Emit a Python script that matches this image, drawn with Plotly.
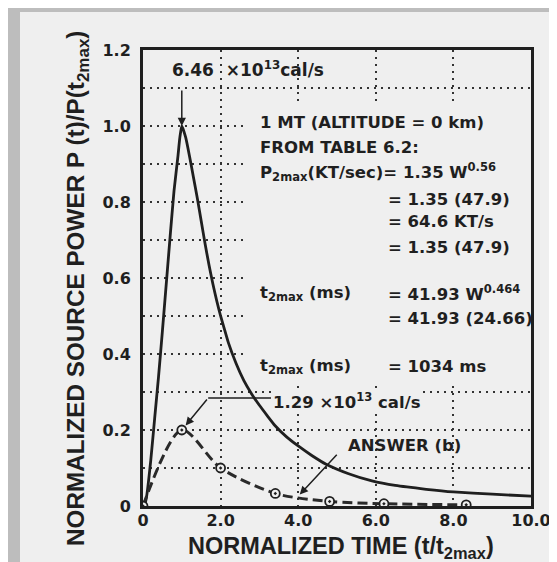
import plotly.graph_objects as go

# ---- data ----
solid_t = [0, 0.05, 0.1, 0.2, 0.3, 0.4, 0.5, 0.6, 0.7, 0.8, 0.9, 0.95, 1.0,
           1.1, 1.2, 1.3, 1.4, 1.5, 1.6, 1.7, 1.8, 1.9, 2.0, 2.1, 2.2, 2.4, 2.6,
           2.8, 3.0, 3.2, 3.4, 3.7, 4.0, 4.35, 4.72, 5.3, 5.9, 6.5, 7.3, 8.0, 9.0, 10.0]
solid_v = [0, 0.005, 0.03, 0.12, 0.23, 0.34, 0.46, 0.585, 0.71, 0.83, 0.92, 0.97, 1.0,
           0.97, 0.92, 0.865, 0.81, 0.75, 0.69, 0.635, 0.585, 0.54, 0.50, 0.465, 0.43,
           0.375, 0.33, 0.295, 0.265, 0.238, 0.212, 0.182, 0.158, 0.133, 0.11, 0.085,
           0.066, 0.054, 0.044, 0.037, 0.031, 0.026]

answer_t = [0, 1.0, 2.0, 3.41, 4.81, 6.21, 8.33]
answer_v = [0, 0.2, 0.1, 0.033, 0.012, 0.006, 0.003]

x_tickvals = [0, 2, 4, 6, 8, 10]
x_ticktext = ["0", "2.0", "4.0", "6.0", "8.0", "10.0"]
y_tickvals = [0, 0.2, 0.4, 0.6, 0.8, 1.0, 1.2]
y_ticktext = ["0", "0.2", "0.4", "0.6", "0.8", "1.0", "1.2"]

INK = "#1f1f1f"
BG = "#efefef"
FONT = "DejaVu Sans"
TFONT = "Liberation Sans, Arial, sans-serif"

# plot-area pixel frame used to place paper-referenced labels
L, R, T, B = 135, 523, 42, 498
W, H = R - L, B - T


def px(x):
    return (x - L) / W


def py(y):
    return (B - y) / H


fig = go.Figure()
fig.add_trace(go.Scatter(x=solid_t, y=solid_v, mode="lines",
                         line=dict(color=INK, width=2.8, shape="spline", smoothing=0.5),
                         hoverinfo="skip", showlegend=False))
fig.add_trace(go.Scatter(x=answer_t, y=answer_v, mode="lines+markers",
                         line=dict(color="#2a2a2a", width=3, dash="10px,5px",
                                   shape="spline", smoothing=0.8),
                         marker=dict(symbol="circle-dot", size=9, color=BG,
                                     line=dict(color=INK, width=1.8)),
                         hoverinfo="skip", showlegend=False))

grid = dict(gridcolor="#333333", gridwidth=1.6, griddash="2px,5px")

fig.update_xaxes(range=[0, 10], tickvals=x_tickvals, ticktext=x_ticktext,
                 showline=True, mirror=True, linewidth=3, linecolor=INK,
                 showgrid=True, ticks="", zeroline=False, ticklabelstandoff=-2,
                 tickfont=dict(family=FONT, size=16, color=INK, weight="bold"), **grid)
fig.update_yaxes(range=[0, 1.2], tickvals=y_tickvals, ticktext=y_ticktext,
                 showline=True, mirror=True, linewidth=3, linecolor=INK,
                 showgrid=True, ticks="", zeroline=False, ticklabelstandoff=6,
                 minor=dict(dtick=0.1, showgrid=True, ticks="", **grid),
                 tickfont=dict(family=FONT, size=16, color=INK, weight="bold"), **grid)

# mask grid behind the text block
fig.add_shape(type="rect", xref="x", yref="y", x0=2.65, x1=10, y0=0.32, y1=1.055,
              fillcolor=BG, line=dict(width=0), layer="between")

# textured border strips (left, top)
for (x0, x1, y0, y1) in [(-0.4, px(12), -0.2, 1.2), (-0.4, 1.2, py(4), 1.2)]:
    fig.add_shape(type="rect", xref="paper", yref="paper", x0=x0, x1=x1, y0=y0, y1=y1,
                  fillcolor="#bdbdbd", line=dict(width=0), layer="below")

tf = dict(family=FONT, size=16.5, color=INK, weight="bold")
ann = []

# peak arrow
pk = solid_v.index(max(solid_v))
ann.append(dict(x=solid_t[pk], y=solid_v[pk], xref="x", yref="y", ax=0, ay=-37,
                text="", showarrow=True, arrowhead=2, arrowsize=1.1, arrowwidth=1.5,
                arrowcolor=INK))
ann.append(dict(x=0.7, y=1.15, xref="x", yref="y", xanchor="left", yanchor="middle",
                text="6.46  \u00d710<sup>13</sup>cal/s", showarrow=False,
                font=dict(tf, size=17)))

# 1.29 label with leader
ann.append(dict(x=3.3, y=0.276, xref="x", yref="y", xanchor="left", yanchor="middle",
                text="1.29 \u00d710<sup>13</sup> cal/s", showarrow=False, font=tf,
                bgcolor=BG, borderpad=1))
fig.add_shape(type="line", xref="x", yref="y", x0=1.68, x1=3.3, y0=0.284, y1=0.284,
              line=dict(color=INK, width=1.5))
ann.append(dict(x=answer_t[1], y=answer_v[1], xref="x", yref="y", axref="x", ayref="y",
                ax=1.68, ay=0.284, text="", showarrow=True, arrowhead=2, arrowsize=1.1,
                arrowwidth=1.5, arrowcolor=INK, standoff=6))

# ANSWER (b)
ann.append(dict(x=6.75, y=0.158, xref="x", yref="y", xanchor="center", yanchor="middle",
                text="ANSWER (b)", showarrow=False, font=tf))
ann.append(dict(x=4.04, y=0.03, xref="x", yref="y", axref="x", ayref="y",
                ax=5.03, ay=0.139, text="", showarrow=True, arrowhead=2, arrowsize=1.1,
                arrowwidth=1.5, arrowcolor=INK))

# text block
block = [
    ("1 MT (ALTITUDE = 0 km)", 2.96, 1.01),
    ("FROM TABLE 6.2:", 2.96, 0.944),
    ("P<sub>2max</sub>(KT/sec)= 1.35 W<sup>0.56</sup>", 2.96, 0.88),
    ("= 1.35 (47.9)", 6.25, 0.806),
    ("= 64.6 KT/s", 6.25, 0.748),
    ("= 1.35 (47.9)", 6.25, 0.68),
    ("t<sub>2max</sub> (ms)", 2.96, 0.56),
    ("= 41.93 W<sup>0.464</sup>", 6.25, 0.56),
    ("= 41.93 (24.66)", 6.25, 0.494),
    ("t<sub>2max</sub> (ms)", 2.96, 0.366),
    ("= 1034 ms", 6.25, 0.366),
]
for txt, x, y in block:
    ann.append(dict(x=x, y=y, xref="x", yref="y", xanchor="left", yanchor="middle",
                    text=txt, showarrow=False, font=tf))

# axis titles
ttl = dict(family=TFONT, size=24, color=INK, weight="bold")
ann.append(dict(x=px(333), y=py(539), xref="paper", yref="paper",
                xanchor="center", yanchor="middle", borderpad=0,
                text="NORMALIZED TIME (t/t<sub>2max</sub>)", showarrow=False,
                font=dict(ttl, size=23.5)))
ann.append(dict(x=px(69), y=py(281), xref="paper", yref="paper",
                xanchor="center", yanchor="middle", borderpad=0,
                text="NORMALIZED SOURCE POWER P (t)/P(t<sub>2max</sub>)", textangle=-90,
                showarrow=False, font=dict(ttl, size=24.3)))

fig.update_layout(width=557, height=562, annotations=ann,
                  margin=dict(l=L, r=557 - R, t=T, b=562 - B, autoexpand=False),
                  paper_bgcolor=BG, plot_bgcolor=BG, showlegend=False)

fig.write_html("out.html")
